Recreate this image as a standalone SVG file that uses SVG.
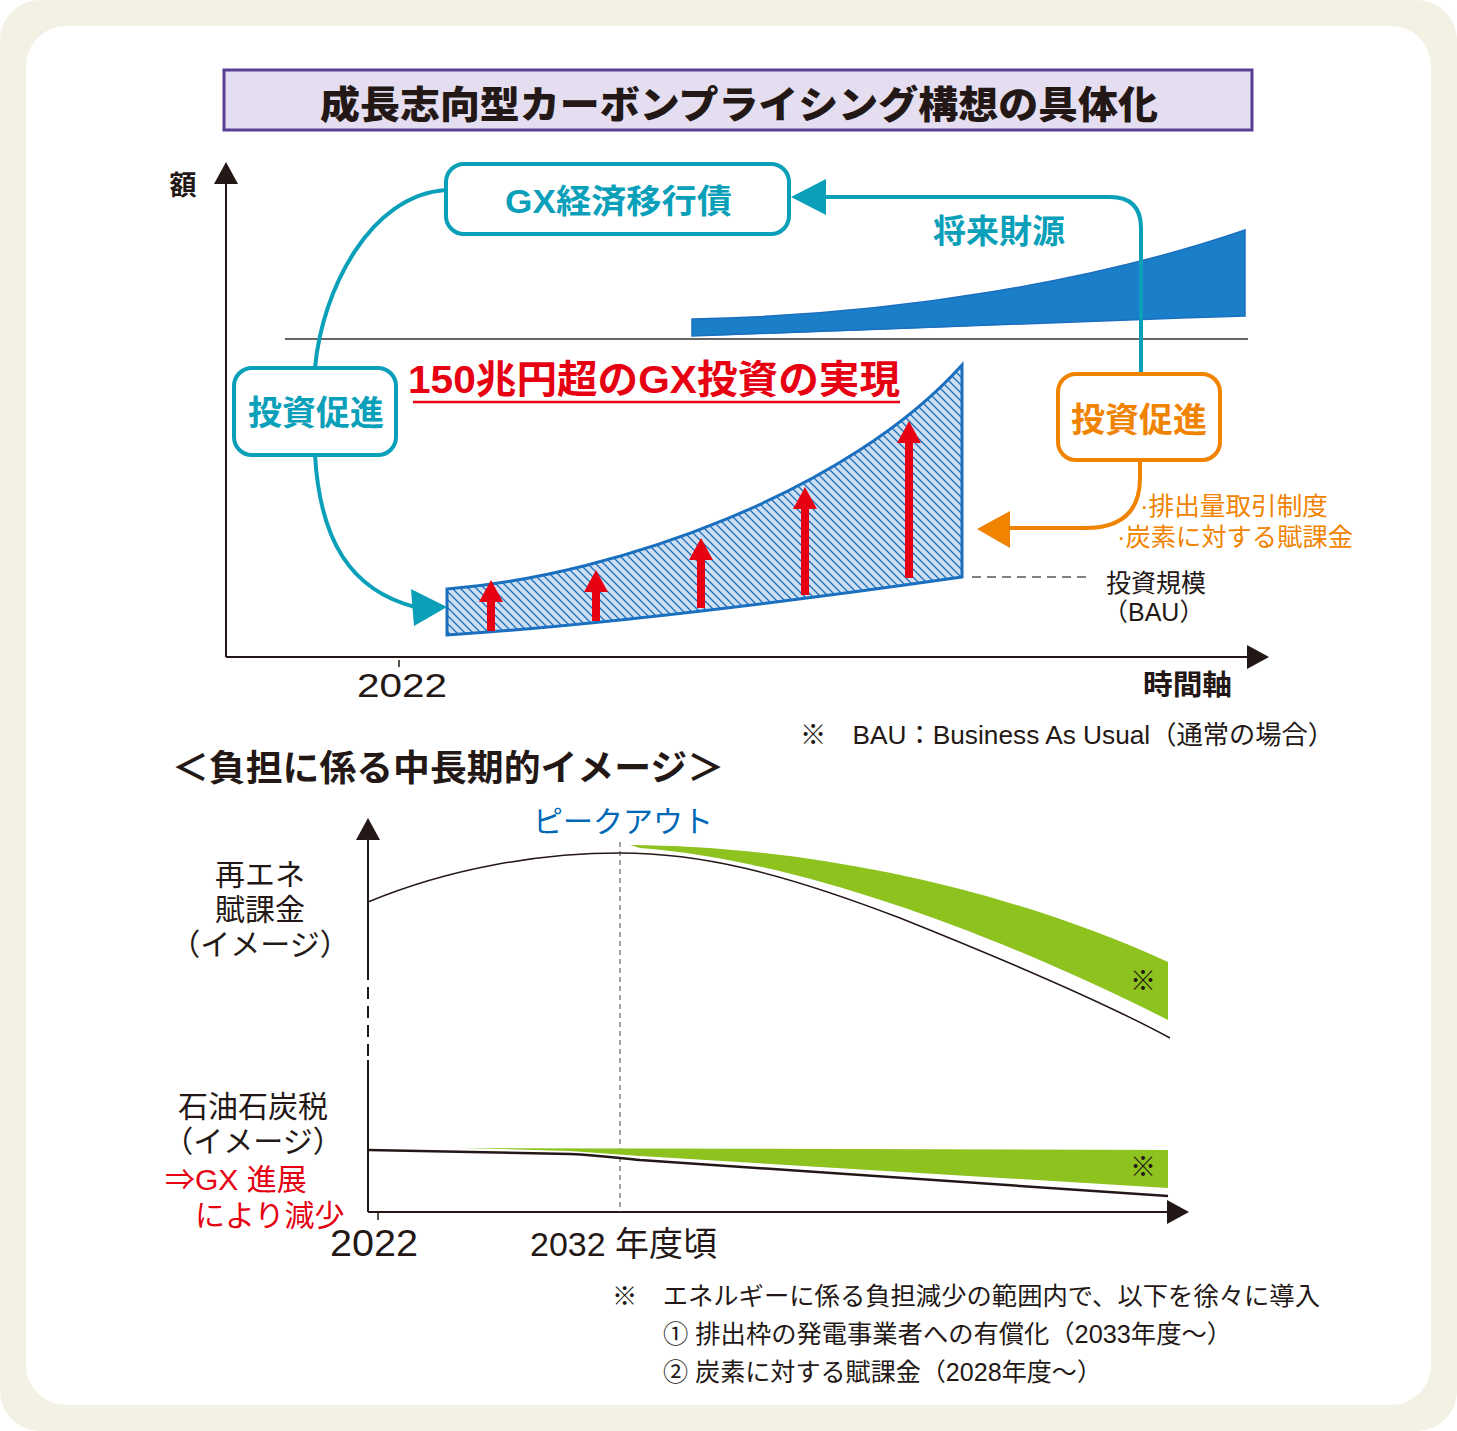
<svg xmlns="http://www.w3.org/2000/svg" width="1457" height="1431" viewBox="0 0 1457 1431">
<style>
.jp{font-family:"Liberation Sans","Noto Sans CJK JP",sans-serif}
.b{font-weight:bold}
.teal{fill:#0aa0b9}
.org{fill:#f08300}
.red{fill:#e60012}
.blk{fill:#231815}
</style>
<defs>
<pattern id="hatch" patternUnits="userSpaceOnUse" width="8" height="8">
<rect width="8" height="8" fill="#cfdff2"/>
<path d="M-2,-2 L10,10 M-2,6 L2,10 M6,-2 L10,2" stroke="#1a6fbf" stroke-width="1.3"/>
</pattern>
</defs>
<rect x="0" y="0" width="1457" height="1431" rx="40" fill="#f3f1e4"/>
<rect x="26" y="26" width="1405" height="1379" rx="40" fill="#ffffff"/>

<g id="title">
<rect x="224" y="70" width="1028" height="60" fill="#e4def0" stroke="#5a3e96" stroke-width="3"/>
<text x="320" y="118" font-size="38" font-weight="900" class="jp blk" textLength="838" lengthAdjust="spacingAndGlyphs">成長志向型カーボンプライシング構想の具体化</text>
</g>

<g id="top-axes">
<line x1="226" y1="180" x2="226" y2="657" stroke="#231815" stroke-width="2"/>
<polygon points="226,162 214,184 238,184" fill="#231815"/>
<line x1="226" y1="657" x2="1250" y2="657" stroke="#231815" stroke-width="2"/>
<polygon points="1269,657 1247,645 1247,669" fill="#231815"/>
<line x1="399" y1="660" x2="399" y2="667" stroke="#231815" stroke-width="1.5"/>
<text x="183" y="195" text-anchor="middle" font-size="27" class="jp b blk">額</text>
<text x="357" y="697" font-size="34" class="jp blk" textLength="90" lengthAdjust="spacingAndGlyphs">2022</text>
<text x="1143" y="695" font-size="28" class="jp b blk" textLength="89" lengthAdjust="spacingAndGlyphs">時間軸</text>
<line x1="285" y1="339" x2="1248" y2="339" stroke="#666" stroke-width="2"/>
</g>

<g id="future-funds-area">
<path d="M692,319 C900,315 1100,280 1245,230 L1245,316 C1050,322 850,332 692,336 Z" fill="#1a7fc8" stroke="#1a6fbf" stroke-width="1.5"/>
</g>

<g id="investment-band">
<path d="M447,589 C620,575 850,490 962,365 L962,577 C800,600 600,625 447,635 Z" fill="url(#hatch)" stroke="#1a6fbf" stroke-width="3"/>
</g>

<g id="red-arrows" fill="#e60012">
<rect x="487" y="600" width="8" height="31"/><polygon points="491,580 479,602 503,602"/>
<rect x="592" y="590" width="8" height="31"/><polygon points="596,570 584,592 608,592"/>
<rect x="697" y="558" width="8" height="50"/><polygon points="701,538 689,560 713,560"/>
<rect x="801" y="507" width="8" height="88"/><polygon points="805,487 793,509 817,509"/>
<rect x="905" y="441" width="8" height="137"/><polygon points="909,421 897,443 921,443"/>
</g>

<g id="headline">
<text x="408" y="393" font-size="39" class="jp b red" textLength="492" lengthAdjust="spacingAndGlyphs">150兆円超のGX投資の実現</text>
<line x1="413" y1="402" x2="900" y2="402" stroke="#e60012" stroke-width="2.5"/>
</g>

<g id="connectors" fill="none" stroke-width="4">
<path d="M446,190 C370,195 322,290 315,368" stroke="#0aa0b9"/>
<path d="M315,455 C320,540 350,590 415,607" stroke="#0aa0b9"/>
<polygon points="447,607 411,589 414,626" fill="#0aa0b9" stroke="none"/>
<path d="M1141,374 L1141,228 Q1141,197 1110,197 L822,197" stroke="#0aa0b9"/>
<polygon points="791,197 826,179 826,215" fill="#0aa0b9" stroke="none"/>
<path d="M1140,460 L1140,478 Q1140,528 1085,528 L1006,528" stroke="#f08300"/>
<polygon points="977,529 1010,511 1010,548" fill="#f08300" stroke="none"/>
<line x1="972" y1="577" x2="1090" y2="577" stroke="#555" stroke-width="1.5" stroke-dasharray="9,6"/>
</g>

<g id="gx-bond">
<rect x="446" y="164" width="343" height="70" rx="18" fill="#fff" stroke="#0aa0b9" stroke-width="4"/>
<text x="505" y="213" font-size="33" class="jp b teal" textLength="227" lengthAdjust="spacingAndGlyphs">GX経済移行債</text>
</g>
<g id="promote-left">
<rect x="234" y="368" width="162" height="87" rx="18" fill="#fff" stroke="#0aa0b9" stroke-width="4"/>
<text x="316" y="425" text-anchor="middle" font-size="34" class="jp b teal">投資促進</text>
</g>
<g id="promote-right">
<rect x="1058" y="374" width="162" height="86" rx="18" fill="#fff" stroke="#f08300" stroke-width="4"/>
<text x="1139" y="432" text-anchor="middle" font-size="34" class="jp b org">投資促進</text>
</g>
<g id="future-label">
<text x="999" y="243" text-anchor="middle" font-size="33" class="jp b teal">将来財源</text>
</g>
<g id="orange-notes">
<text x="1140" y="515" font-size="25" class="jp org" textLength="188" lengthAdjust="spacingAndGlyphs">·排出量取引制度</text>
<text x="1117" y="546" font-size="25" class="jp org" textLength="236" lengthAdjust="spacingAndGlyphs">·炭素に対する賦課金</text>
</g>
<g id="bau-label">
<text x="1106" y="592" font-size="25" class="jp blk">投資規模</text>
<text x="1103" y="621" font-size="25" class="jp blk">（BAU）</text>
</g>
<text x="800" y="744" font-size="26" class="jp blk" textLength="534" lengthAdjust="spacingAndGlyphs">※　BAU：Business As Usual（通常の場合）</text>

<text x="172" y="781" font-size="36" class="jp b blk" textLength="552" lengthAdjust="spacingAndGlyphs">＜負担に係る中長期的イメージ＞</text>

<g id="bottom-axes">
<line x1="368" y1="838" x2="368" y2="968" stroke="#231815" stroke-width="2"/>
<line x1="368" y1="968" x2="368" y2="1060" stroke="#231815" stroke-width="2" stroke-dasharray="12,7"/>
<line x1="368" y1="1060" x2="368" y2="1212" stroke="#231815" stroke-width="2"/>
<polygon points="368,818 356,840 380,840" fill="#231815"/>
<line x1="368" y1="1212" x2="1170" y2="1212" stroke="#231815" stroke-width="2"/>
<polygon points="1189,1212 1167,1200 1167,1224" fill="#231815"/>
<line x1="378" y1="1212" x2="378" y2="1220" stroke="#231815" stroke-width="1.5"/>
<line x1="620" y1="842" x2="620" y2="1212" stroke="#666" stroke-width="1.2" stroke-dasharray="5,4"/>
<text x="330" y="1256" font-size="36" class="jp blk" textLength="88" lengthAdjust="spacingAndGlyphs">2022</text>
<text x="530" y="1256" font-size="34" class="jp blk" textLength="187" lengthAdjust="spacingAndGlyphs">2032 年度頃</text>
<text x="623" y="832" text-anchor="middle" font-size="30" class="jp" fill="#0068b7">ピークアウト</text>
</g>

<g id="renewable-curve">
<path d="M630,845 C800,846 1000,885 1168,962 L1168,1020 C1000,935 800,860 640,848 Z" fill="#8dc21f"/>
<path d="M368,902 C450,868 540,853 620,853 C700,853 780,872 900,918 C1000,958 1100,1000 1170,1038" fill="none" stroke="#231815" stroke-width="1.5"/>
<text x="1143" y="990" text-anchor="middle" font-size="26" class="jp blk">※</text>
</g>

<g id="oil-curve">
<path d="M460,1148 L1168,1150 L1168,1188 L640,1156 L570,1151 Z" fill="#8dc21f"/>
<path d="M368,1150 L570,1154 C595,1155 610,1157 640,1160 L1168,1196" fill="none" stroke="#231815" stroke-width="2.5"/>
<text x="1143" y="1176" text-anchor="middle" font-size="26" class="jp blk">※</text>
</g>

<g id="left-labels">
<text x="260" y="885" text-anchor="middle" font-size="30" class="jp blk">再エネ</text>
<text x="260" y="920" text-anchor="middle" font-size="30" class="jp blk">賦課金</text>
<text x="260" y="955" text-anchor="middle" font-size="30" class="jp blk">（イメージ）</text>
<text x="253" y="1117" text-anchor="middle" font-size="30" class="jp blk">石油石炭税</text>
<text x="253" y="1152" text-anchor="middle" font-size="30" class="jp blk">（イメージ）</text>
<text x="165" y="1190" font-size="30" class="jp red">⇒GX 進展</text>
<text x="195" y="1226" font-size="30" class="jp red">により減少</text>
</g>

<g id="footnote">
<text x="612" y="1305" font-size="25" class="jp blk" textLength="708" lengthAdjust="spacingAndGlyphs">※　エネルギーに係る負担減少の範囲内で、以下を徐々に導入</text>
<text x="663" y="1343" font-size="25" class="jp blk" textLength="569" lengthAdjust="spacingAndGlyphs">① 排出枠の発電事業者への有償化（2033年度～）</text>
<text x="663" y="1381" font-size="25" class="jp blk" textLength="439" lengthAdjust="spacingAndGlyphs">② 炭素に対する賦課金（2028年度～）</text>
</g>
</svg>
